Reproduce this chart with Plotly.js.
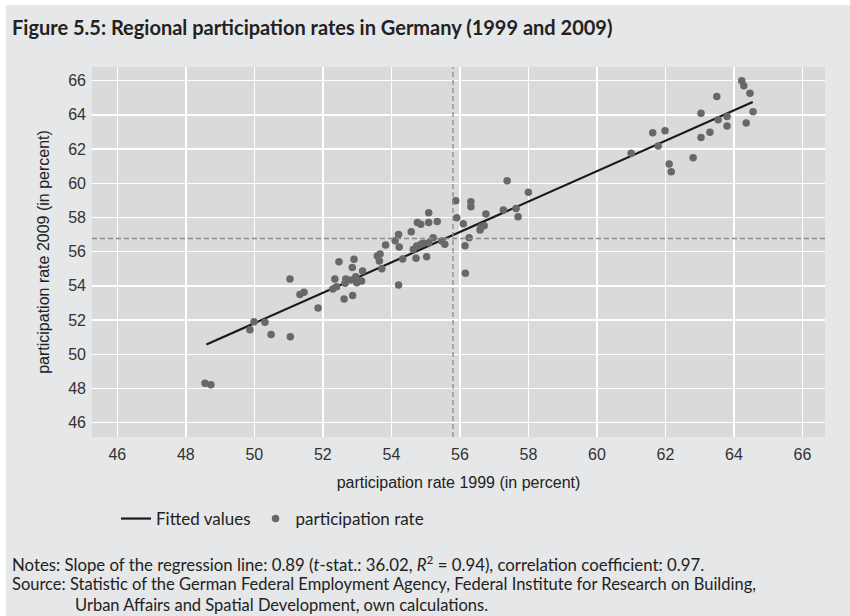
<!DOCTYPE html>
<html>
<head>
<meta charset="utf-8">
<script src="https://cdn.plot.ly/plotly-3.0.1.min.js"></script>
<style>
  html, body { margin: 0; padding: 0; background: #ffffff; }
  #wrap { position: relative; width: 850px; height: 616px; overflow: hidden; }
  #chart { position: absolute; left: 0; top: 0; width: 850px; height: 616px; }
  .strip { position: absolute; background: #ffffff; z-index: 5; }
</style>
</head>
<body>
<div id="wrap">
  <div id="chart"></div>
  <div class="strip" style="left:0;top:0;width:850px;height:5px;"></div>
  <div class="strip" style="left:0;top:0;width:6px;height:616px;"></div>
</div>
<script>
// participation rate 1999 (x) and 2009 (y), in percent
const rate1999 = [
  48.56, 48.73, 49.99, 49.87, 50.31, 50.49, 51.05, 51.04, 51.33, 51.45,
  51.86, 52.29, 52.40, 52.35, 52.47, 52.62, 52.65, 52.67, 52.86, 52.91,
  52.87, 52.81, 52.96, 52.99, 53.13, 53.16, 53.59, 53.67, 53.65, 53.72,
  53.83, 54.11, 54.21, 54.23, 54.21, 54.33, 54.58, 54.64, 54.72, 54.74,
  54.76, 54.86, 54.86, 54.93, 55.03, 55.09, 55.09, 55.09, 55.22, 55.34,
  55.47, 55.56, 55.88, 55.91, 56.10, 56.15, 56.16, 56.27, 56.32, 56.32,
  56.59, 56.62, 56.71, 56.76, 57.38, 57.27, 57.64, 57.70, 58.00, 61.00,
  61.63, 61.99, 61.79, 62.11, 62.17, 62.81, 63.04, 63.04, 63.30, 63.50,
  63.54, 63.80, 63.80, 64.23, 64.29, 64.47, 64.56, 64.36
];
const rate2009 = [
  48.30, 48.22, 51.90, 51.43, 51.87, 51.16, 51.02, 54.40, 53.50, 53.62,
  52.70, 53.81, 53.95, 54.40, 55.41, 53.23, 54.15, 54.40, 55.08, 55.55,
  53.44, 54.34, 54.53, 54.18, 54.28, 54.87, 55.74, 55.86, 55.45, 55.00,
  56.39, 56.64, 57.01, 56.27, 54.05, 55.57, 57.16, 56.13, 55.61, 56.33,
  57.71, 57.61, 56.43, 56.49, 55.70, 58.27, 57.71, 56.52, 56.81, 57.77,
  56.62, 56.44, 58.98, 57.98, 57.63, 56.35, 54.73, 56.81, 58.92, 58.63,
  57.26, 57.46, 57.51, 58.20, 60.15, 58.43, 58.53, 58.04, 59.47, 61.75,
  62.95, 63.07, 62.18, 61.12, 60.67, 61.49, 64.09, 62.68, 62.99, 65.08,
  63.71, 63.91, 63.35, 65.99, 65.70, 65.27, 64.18, 63.52
];
// fitted regression line (end points)
const fittedX = [48.6, 64.55];
const fittedY = [50.57, 64.75];
// reference (dashed) lines
const refX = 55.8;
const refY = 56.77;
// axis ticks
const tickValues = [46, 48, 50, 52, 54, 56, 58, 60, 62, 64, 66];
const tickLabels = ["46", "48", "50", "52", "54", "56", "58", "60", "62", "64", "66"];

const narrow = 'Lato, "Liberation Sans", sans-serif';
const sans = '"Liberation Sans", Arial, sans-serif';
const textCol = '#222222';

const traces = [
  {
    x: fittedX, y: fittedY, type: 'scatter', mode: 'lines',
    name: 'Fitted values',
    line: { color: '#1a1a1a', width: 2.2 },
    hoverinfo: 'skip'
  },
  {
    x: rate1999, y: rate2009, type: 'scatter', mode: 'markers',
    name: 'participation rate',
    marker: { color: '#67686a', size: 7.5, line: { width: 0 } }
  }
];

const L = 92, R = 25, T = 67, B = 179;
const pw = 850 - L - R, ph = 616 - T - B;
const px = v => (v - L) / pw;      // page x -> paper fraction
const py = v => (616 - B - v) / ph; // page y -> paper fraction

const layout = {
  width: 850, height: 616,
  margin: { l: L, r: R, t: T, b: B, pad: 0 },
  paper_bgcolor: '#e6e7e8',
  plot_bgcolor: '#d9dadc',
  font: { family: sans, color: textCol, size: 16 },
  title: {
    text: '<b>Figure 5.5: Regional participation rates in Germany (1999 and 2009)</b>',
    font: { family: narrow, size: 20, color: textCol },
    xref: 'container', x: 12 / 850, xanchor: 'left',
    yref: 'container', y: 1 - 28 / 616, yanchor: 'middle'
  },
  xaxis: {
    range: [45.26, 66.66],
    tickvals: tickValues, ticktext: tickLabels,
    tickfont: { family: sans, size: 16, color: '#333333' },
    showgrid: true, gridcolor: '#ffffff', gridwidth: 1.4,
    zeroline: false, showline: false, ticks: '',
    ticklabelstandoff: 6,
    title: { text: 'participation rate 1999 (in percent)', font: { family: sans, size: 16, color: textCol }, standoff: 14 },
    automargin: false
  },
  yaxis: {
    range: [45.16, 66.8],
    tickvals: tickValues, ticktext: tickLabels,
    tickfont: { family: sans, size: 16, color: '#333333' },
    showgrid: true, gridcolor: '#ffffff', gridwidth: 1.4,
    zeroline: false, showline: false, ticks: '',
    ticklabelstandoff: 5,
    title: { text: 'participation rate 2009 (in percent)', font: { family: sans, size: 16, color: textCol }, standoff: 14 },
    automargin: false
  },
  shapes: [
    { type: 'line', xref: 'x', yref: 'paper', x0: refX, x1: refX, y0: 0, y1: 1,
      line: { color: '#8a8b8d', width: 1.3, dash: '5px,3px' }, layer: 'above' },
    { type: 'line', xref: 'paper', yref: 'y', x0: 0, x1: 1, y0: refY, y1: refY,
      line: { color: '#8a8b8d', width: 1.3, dash: '5px,3px' }, layer: 'above' }
  ],
  showlegend: true,
  legend: {
    orientation: 'h', x: px(116), xanchor: 'left', y: py(519), yanchor: 'middle',
    font: { family: narrow, size: 17, color: textCol },
    bgcolor: 'rgba(0,0,0,0)', itemwidth: 30, traceorder: 'normal'
  },
  annotations: [
    { xref: 'paper', yref: 'paper', x: px(10), y: py(563), xanchor: 'left', yanchor: 'middle',
      showarrow: false, align: 'left',
      font: { family: narrow, size: 16.8, color: textCol },
      text: 'Notes: Slope of the regression line: 0.89 (<i>t</i>-stat.: 36.02, <i>R</i><sup>2</sup> = 0.94), correlation coefficient: 0.97.' },
    { xref: 'paper', yref: 'paper', x: px(10), y: py(584), xanchor: 'left', yanchor: 'middle',
      showarrow: false, align: 'left',
      font: { family: narrow, size: 16.5, color: textCol },
      text: 'Source: Statistic of the German Federal Employment Agency, Federal Institute for Research on Building,' },
    { xref: 'paper', yref: 'paper', x: px(73), y: py(605), xanchor: 'left', yanchor: 'middle',
      showarrow: false, align: 'left',
      font: { family: narrow, size: 16.5, color: textCol },
      text: 'Urban Affairs and Spatial Development, own calculations.' }
  ]
};

Plotly.newPlot('chart', traces, layout, { displayModeBar: false, staticPlot: true });
</script>
</body>
</html>
